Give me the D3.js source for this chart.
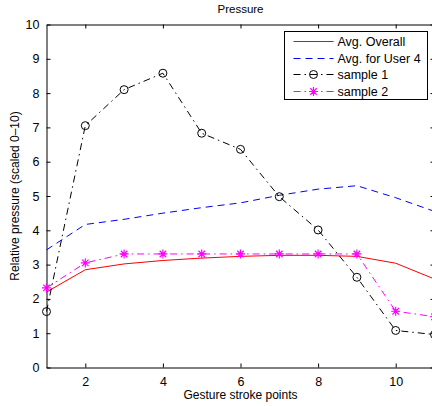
<!DOCTYPE html>
<html>
<head>
<meta charset="utf-8">
<script src="https://cdn.jsdelivr.net/npm/d3@7"></script>
<style>
  body { margin: 0; background: #fff; }
  svg { display: block; font-family: "Liberation Sans", Arial, sans-serif; }
</style>
</head>
<body>
<div id="chart"></div>
<script>
// data
var points = [1, 2, 3, 4, 5, 6, 7, 8, 9, 10, 11];
var avgOverall = [2.2, 2.85, 3.02, 3.12, 3.19, 3.24, 3.27, 3.27, 3.24, 3.04, 2.58];
var avgUser4 = [3.43, 4.17, 4.32, 4.5, 4.66, 4.8, 5.02, 5.2, 5.3, 4.95, 4.55];
var sample1 = [1.63, 7.05, 8.1, 8.58, 6.83, 6.36, 4.98, 4.01, 2.63, 1.08, 0.96];
var sample2 = [2.32, 3.05, 3.31, 3.31, 3.31, 3.31, 3.31, 3.31, 3.31, 1.64, 1.48];
var xTicks = [2, 4, 6, 8, 10];
var yTicks = [0, 1, 2, 3, 4, 5, 6, 7, 8, 9, 10];
var legendLabels = ["Avg. Overall", "Avg. for User 4", "sample 1", "sample 2"];

var svgWidth = 432;
var svgHeight = 406;
var margin = { top: 24.5, left: 46.5 };
var width = 388;
var height = 343;

var svg = d3.select("#chart")
  .append("svg")
  .attr("width", svgWidth)
  .attr("height", svgHeight);

var chartGroup = svg.append("g")
  .attr("transform", `translate(${margin.left}, ${margin.top})`);

var xScale = d3.scaleLinear().domain([1, 11]).range([0, width]);
var yScale = d3.scaleLinear().domain([0, 10]).range([height, 0]);

// axes, MATLAB style: ticks pointing inward on all four sides
var tickLen = 4;
chartGroup.append("g")
  .attr("transform", `translate(0, ${height})`)
  .call(d3.axisBottom(xScale).tickValues(xTicks).tickFormat(d3.format("d"))
    .tickSizeInner(-tickLen).tickSizeOuter(0).tickPadding(10));
chartGroup.append("g")
  .call(d3.axisTop(xScale).tickValues(xTicks).tickFormat("")
    .tickSizeInner(-tickLen).tickSizeOuter(0));
chartGroup.append("g")
  .call(d3.axisLeft(yScale).tickValues(yTicks).tickFormat(d3.format("d"))
    .tickSizeInner(-tickLen).tickSizeOuter(0).tickPadding(7));
chartGroup.append("g")
  .attr("transform", `translate(${width}, 0)`)
  .call(d3.axisRight(yScale).tickValues(yTicks).tickFormat("")
    .tickSizeInner(-tickLen).tickSizeOuter(0));

chartGroup.selectAll(".domain").attr("stroke", "#000").attr("stroke-width", 1);
chartGroup.selectAll(".tick line").attr("stroke", "#000");
chartGroup.selectAll(".tick text")
  .attr("font-size", "12.5px")
  .attr("font-family", "Liberation Sans, Arial, sans-serif")
  .attr("fill", "#000");

var line = d3.line()
  .x((d, i) => xScale(points[i]))
  .y(d => yScale(d));

var series = [
  { values: avgOverall, color: "#ff0000", dash: "none", marker: null },
  { values: avgUser4, color: "#0000ff", dash: "7,5", marker: null },
  { values: sample1, color: "#000000", dash: "7,4,1.5,4", marker: "circle" },
  { values: sample2, color: "#ff00ff", dash: "7,4,1.5,4", marker: "star" }
];

// asterisk marker path
function starPath(cx, cy, r) {
  var d = r * 0.72;
  return `M${cx - r},${cy}L${cx + r},${cy}M${cx},${cy - r}L${cx},${cy + r}` +
    `M${cx - d},${cy - d}L${cx + d},${cy + d}M${cx - d},${cy + d}L${cx + d},${cy - d}`;
}

function drawMarker(g, type, cx, cy, color) {
  if (type === "circle") {
    g.append("circle")
      .attr("cx", cx).attr("cy", cy).attr("r", 4)
      .attr("fill", "none").attr("stroke", color).attr("stroke-width", 1);
  } else if (type === "star") {
    g.append("path")
      .attr("d", starPath(cx, cy, 4.5))
      .attr("fill", "none").attr("stroke", color).attr("stroke-width", 1.2);
  }
}

series.forEach(function(s) {
  chartGroup.append("path")
    .datum(s.values)
    .attr("d", line)
    .attr("fill", "none")
    .attr("stroke", s.color)
    .attr("stroke-width", 1)
    .attr("stroke-dasharray", s.dash);
  if (s.marker) {
    var mg = chartGroup.append("g");
    s.values.forEach(function(v, i) {
      drawMarker(mg, s.marker, xScale(points[i]), yScale(v), s.color);
    });
  }
});

// title and axis labels
svg.append("text")
  .attr("x", margin.left + width / 2)
  .attr("y", 13)
  .attr("text-anchor", "middle")
  .attr("font-size", "11.5px")
  .text("Pressure");

svg.append("text")
  .attr("x", margin.left + width / 2)
  .attr("y", 399)
  .attr("text-anchor", "middle")
  .attr("font-size", "12px")
  .text("Gesture stroke points");

svg.append("text")
  .attr("transform", "rotate(-90)")
  .attr("x", -(margin.top + height / 2))
  .attr("y", 19)
  .attr("text-anchor", "middle")
  .attr("font-size", "12px")
  .text("Relative pressure (scaled 0\u201310)");

// legend
var legend = svg.append("g").attr("transform", "translate(284.5, 31.5)");
legend.append("rect")
  .attr("width", 143).attr("height", 68)
  .attr("fill", "#fff").attr("stroke", "#000").attr("stroke-width", 1);

series.forEach(function(s, i) {
  var ly = Math.round(10 + i * 16.7);
  if (s.dash === "none") {
    // solid sample drawn as a thin filled strip
    legend.append("rect")
      .attr("x", 9).attr("y", ly - 0.5)
      .attr("width", 40).attr("height", 1)
      .attr("fill", s.color);
  } else {
    legend.append("line")
      .attr("x1", 9).attr("x2", 49)
      .attr("y1", ly).attr("y2", ly)
      .attr("stroke", s.color)
      .attr("stroke-width", 1)
      .attr("stroke-dasharray", s.dash);
  }
  if (s.marker) drawMarker(legend, s.marker, 29, ly, s.color);
  legend.append("text")
    .attr("x", 53)
    .attr("y", ly + 4.5)
    .attr("font-size", "12.5px")
    .attr("fill", "#000")
    .text(legendLabels[i]);
});
</script>
</body>
</html>
